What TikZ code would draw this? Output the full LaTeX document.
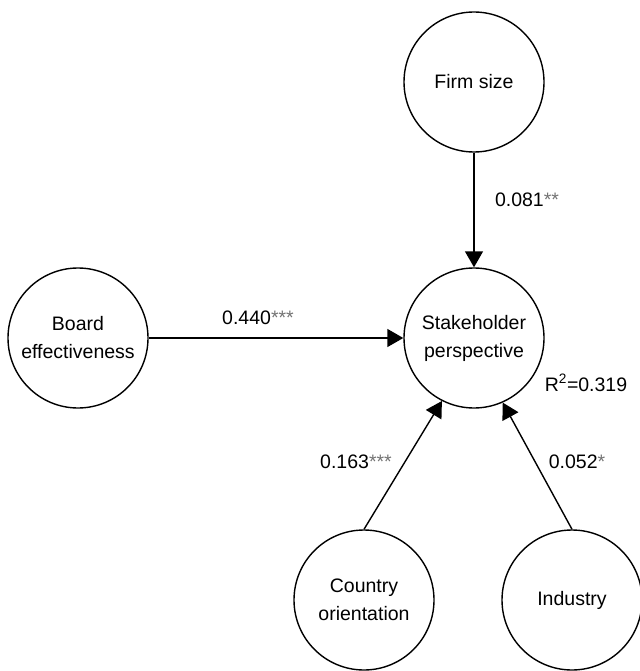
\documentclass[tikz,border=0pt]{standalone}
\usepackage{fontspec}
\setmainfont{Liberation Sans}
\usetikzlibrary{arrows.meta}
\tikzset{
  var/.style={draw, circle, line width=1.4pt, minimum size=140pt, inner sep=0pt, align=center, font=\fontsize{19.5}{28}\selectfont},
  path/.style={line width=1.4pt, -{Triangle[length=16pt,width=18pt]}},
  lbl/.style={font=\fontsize{19.5}{24}\selectfont, inner sep=0pt},
}
\newcommand{\stars}[1]{\textcolor{black!55}{#1}}
\begin{document}
\begin{tikzpicture}[x=1pt,y=-1pt]
\useasboundingbox (0,0) rectangle (639,671);
\node[var] (firm) at (474,82) {Firm size};
\node[var] (board) at (78,338) {Board\\effectiveness};
\node[var] (stake) at (474,338) {Stakeholder\\perspective};
\node[var] (country) at (364,600) {Country\\orientation};
\node[var] (industry) at (572,600) {Industry};
\draw[path] (firm.south) -- (stake.north);
\draw[path] (board.east) -- (stake.west);
\draw[path] (country.north) -- (stake.243);
\draw[path] (industry.north) -- (stake.294);
\node[lbl] (l1) at (527,200) {0.081\stars{**}};
\node[lbl] (l2) at (258,318) {0.440\stars{***}};
\node[lbl] (l3) at (356,462) {0.163\stars{***}};
\node[lbl] (l4) at (577,462) {0.052\stars{*}};
\node[lbl] (r2) at (586,383) {R\textsuperscript{2}=0.319};
\end{tikzpicture}
\end{document}
